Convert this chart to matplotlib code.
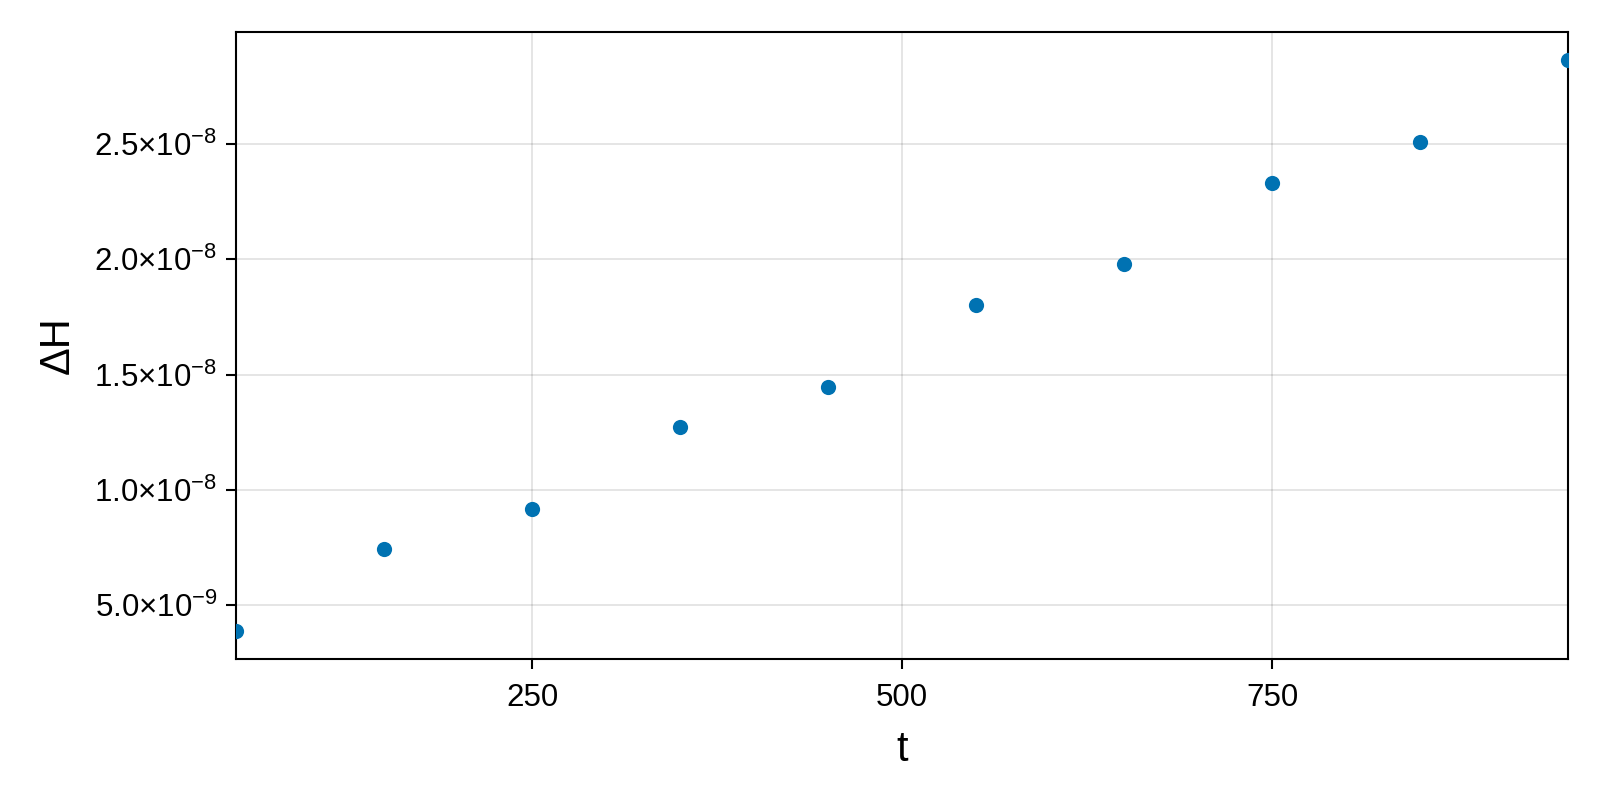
import matplotlib
matplotlib.use("Agg")
import matplotlib.pyplot as plt
from matplotlib.ticker import FixedLocator, FuncFormatter

plt.rcParams["font.family"] = ["Liberation Sans", "DejaVu Sans"]
plt.rcParams["mathtext.fontset"] = "custom"
plt.rcParams["mathtext.rm"] = "Liberation Sans"
plt.rcParams["mathtext.it"] = "Liberation Sans"

t = [50, 150, 250, 350, 450, 550, 650, 750, 850, 950]
dH = [3.90e-9, 7.43e-9, 9.19e-9, 12.73e-9, 14.45e-9,
      18.02e-9, 19.79e-9, 23.32e-9, 25.09e-9, 28.62e-9]
xticks = [250, 500, 750]
yticks = [5e-9, 1.0e-8, 1.5e-8, 2.0e-8, 2.5e-8]


def sci(v, _):
    exp = int(f"{v:e}".split("e")[1])
    mant = v / 10 ** exp
    return r"$\mathregular{%.1f{\times}10^{%d}}$" % (mant, exp)


fig = plt.figure(figsize=(16, 8), dpi=100)
# axes box in pixels: left 236, right 1568, top 32, bottom 659
ax = fig.add_axes([236 / 1600, 1 - 659 / 800, (1568 - 236) / 1600, (659 - 32) / 800])
ax.scatter(t, dH, s=120, color="#0072b2", zorder=3, linewidths=0)

span = max(dH) - min(dH)
ax.set_xlim(50, 950)
ax.set_ylim(min(dH) - 0.05 * span, max(dH) + 0.05 * span)
ax.xaxis.set_major_locator(FixedLocator(xticks))
ax.yaxis.set_major_locator(FixedLocator(yticks))
ax.yaxis.set_major_formatter(FuncFormatter(sci))
ax.grid(True, color="#000000", alpha=0.12, linewidth=1.2)
ax.set_axisbelow(True)
ax.tick_params(labelsize=22.5, length=7.5, width=1.5, direction="out", pad=6)
ax.tick_params(axis="x", pad=10)
for s in ax.spines.values():
    s.set_linewidth(1.5)
ax.set_xlabel("t", fontsize=30, labelpad=12)
ax.set_ylabel("ΔH", fontsize=30, labelpad=12)

fig.savefig("out.png", dpi=100)
